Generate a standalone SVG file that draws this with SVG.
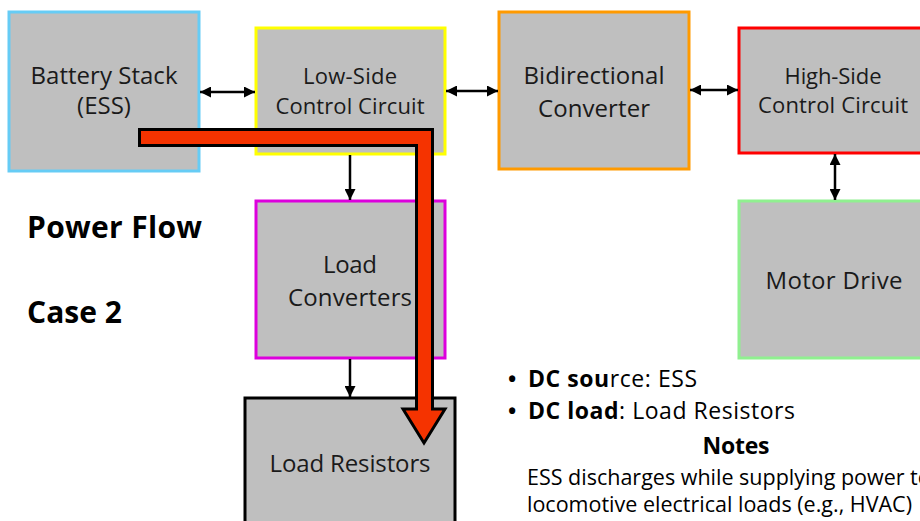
<svg xmlns="http://www.w3.org/2000/svg" width="920" height="521" viewBox="0 0 920 521">
<defs>
<style>
.box{fill:#bfbfbf;stroke-width:3}
.lbl{font-family:"Open Sans","Liberation Sans",sans-serif;fill:#1a1a1a;text-anchor:middle}
.conn{stroke:#000;stroke-width:2.5;fill:none}
.txt{font-family:"Open Sans","Liberation Sans",sans-serif;fill:#000}
.b{font-weight:bold}
</style>
<marker id="ah" viewBox="0 0 10 10" refX="10" refY="5" markerWidth="11" markerHeight="11" markerUnits="userSpaceOnUse" orient="auto-start-reverse">
<path d="M0,0 L10,5 L0,10 z" fill="#000"/>
</marker>
</defs>
<rect width="920" height="521" fill="#fff"/>

<g id="battery">
<rect class="box" x="9" y="12" width="190" height="159" stroke="#66ccf5"/>
<text class="lbl" x="104" y="84" font-size="24" textLength="147">Battery Stack</text>
<text class="lbl" x="104" y="114" font-size="24">(ESS)</text>
</g>
<g id="lowside">
<rect class="box" x="256" y="28" width="189" height="126" stroke="#ffff00"/>
<text class="lbl" x="350" y="84" font-size="22" textLength="94">Low-Side</text>
<text class="lbl" x="350" y="114" font-size="22" textLength="149">Control Circuit</text>
</g>
<g id="bidirectional">
<rect class="box" x="499" y="12" width="190" height="157" stroke="#ff9a00"/>
<text class="lbl" x="594" y="84" font-size="24" textLength="141">Bidirectional</text>
<text class="lbl" x="594" y="117" font-size="24" textLength="112">Converter</text>
</g>
<g id="highside">
<rect class="box" x="739" y="28" width="195" height="125" stroke="#ff0000"/>
<text class="lbl" x="833" y="84" font-size="22" textLength="97">High-Side</text>
<text class="lbl" x="833" y="113" font-size="22" textLength="150">Control Circuit</text>
</g>
<g id="motordrive">
<rect class="box" x="739" y="201" width="195" height="157" stroke="#90f090"/>
<text class="lbl" x="834" y="289" font-size="24" textLength="137">Motor Drive</text>
</g>
<g id="loadconverters">
<rect class="box" x="256" y="201" width="189" height="157" stroke="#dd00dd"/>
<text class="lbl" x="350" y="273" font-size="24" textLength="54">Load</text>
<text class="lbl" x="350" y="306" font-size="24" textLength="124">Converters</text>
</g>
<g id="loadresistors">
<rect class="box" x="245" y="398" width="210" height="140" stroke="#000"/>
<text class="lbl" x="350" y="472" font-size="24" textLength="161">Load Resistors</text>
</g>

<g id="connectors">
<line class="conn" x1="200" y1="92" x2="255" y2="92" marker-start="url(#ah)" marker-end="url(#ah)"/>
<line class="conn" x1="446" y1="91" x2="498" y2="91" marker-start="url(#ah)" marker-end="url(#ah)"/>
<line class="conn" x1="690" y1="90" x2="738" y2="90" marker-start="url(#ah)" marker-end="url(#ah)"/>
<line class="conn" x1="835" y1="154" x2="835" y2="200" marker-start="url(#ah)" marker-end="url(#ah)"/>
<line class="conn" x1="350" y1="155" x2="350" y2="200" marker-end="url(#ah)"/>
<line class="conn" x1="350" y1="359" x2="350" y2="397" marker-end="url(#ah)"/>
</g>

<g id="powerflow-arrow">
<polygon points="139.5,129.5 432.5,129.5 432.5,409 445,409 424,443 403,409 416.5,409 416.5,145.5 139.5,145.5" fill="#f53300" stroke="#000" stroke-width="3" stroke-linejoin="miter"/>
</g>

<g id="title">
<text class="txt b" x="27" y="238" font-size="30" textLength="175">Power Flow</text>
<text class="txt b" x="27" y="323" font-size="30" textLength="95">Case 2</text>
</g>

<g id="notes">
<text class="txt b" x="508" y="387" font-size="22">•</text>
<text class="txt" x="528" y="387" font-size="23" textLength="169"><tspan class="b">DC sou</tspan>rce: ESS</text>
<text class="txt b" x="508" y="419" font-size="22">•</text>
<text class="txt" x="528" y="419" font-size="23" textLength="267"><tspan class="b">DC load</tspan>: Load Resistors</text>
<text class="txt b" x="736" y="454" font-size="23" text-anchor="middle" textLength="67">Notes</text>
<text class="txt" x="527" y="485" font-size="21.5">ESS discharges while supplying power to</text>
<text class="txt" x="527" y="512" font-size="21.5" textLength="385">locomotive electrical loads (e.g., HVAC)</text>
</g>
</svg>
